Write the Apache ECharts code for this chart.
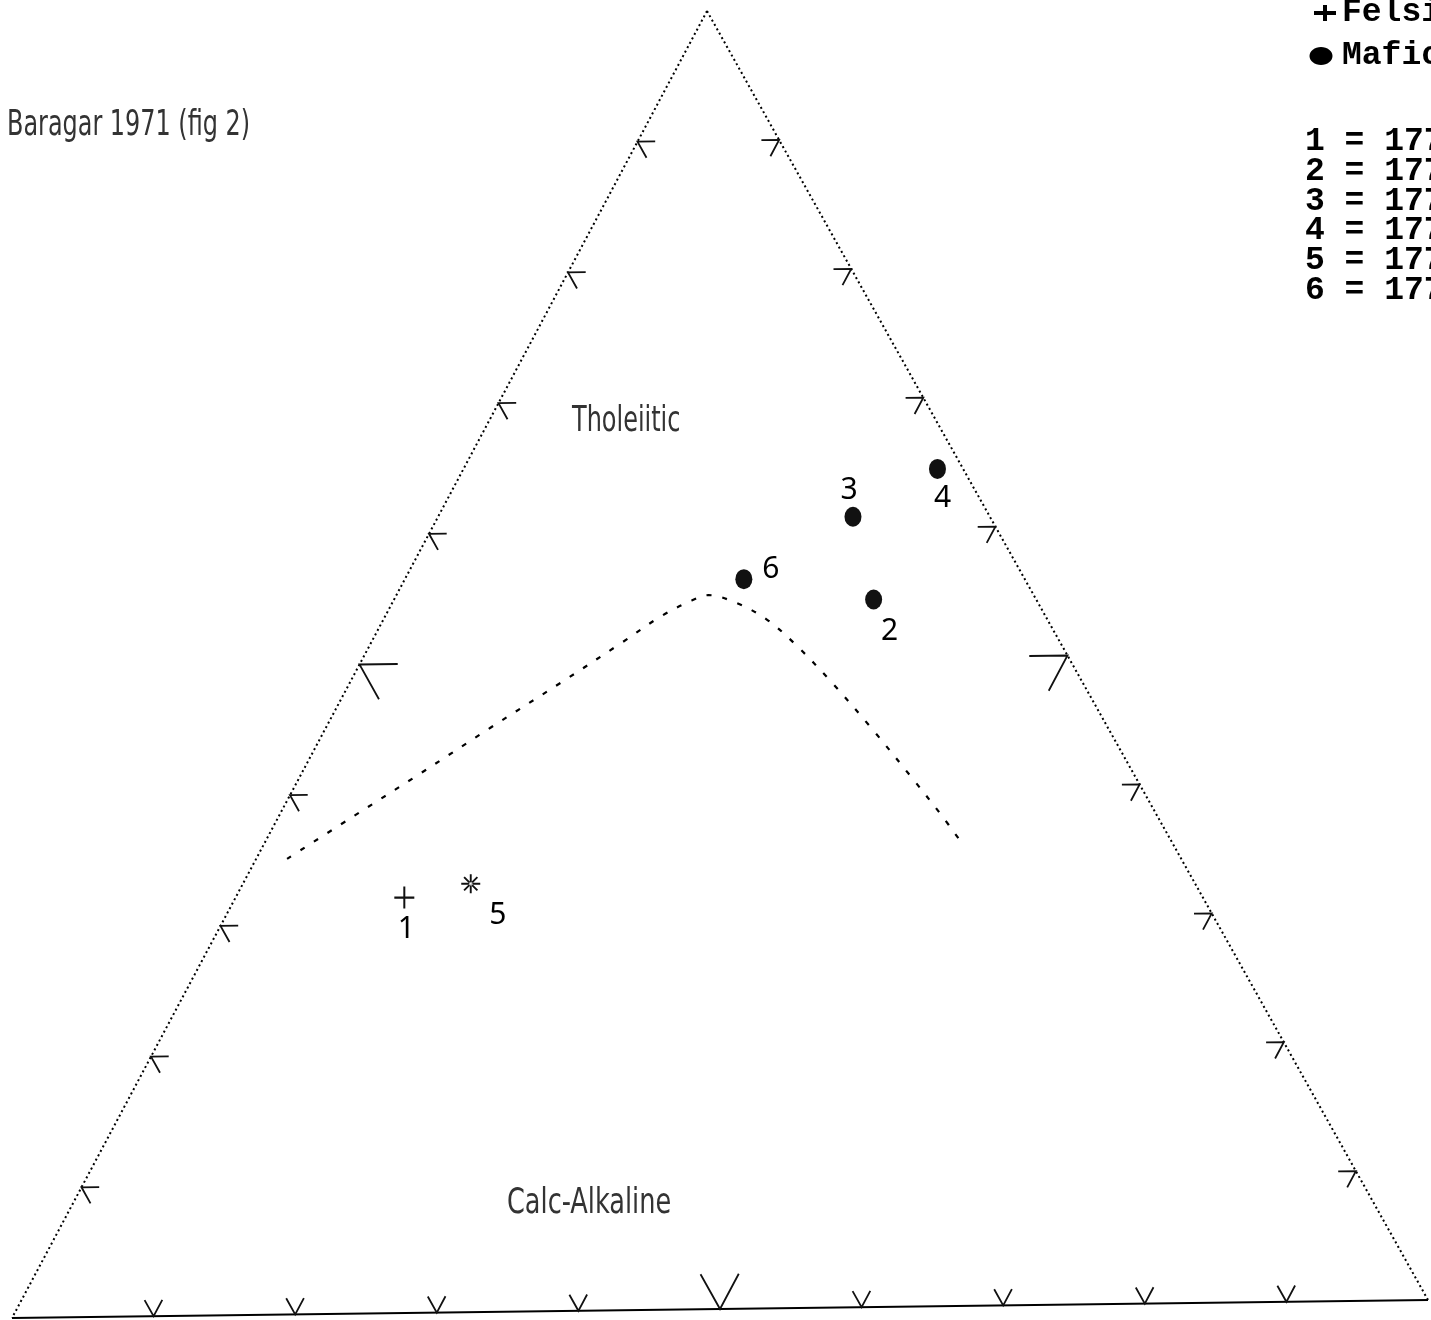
<!DOCTYPE html>
<html><head><meta charset="utf-8">
<script src="https://cdn.jsdelivr.net/npm/echarts@6/dist/echarts.min.js"></script>
<style>html,body{margin:0;padding:0;background:#fff}#chart{width:1431px;height:1320px}</style>
</head><body><div id="chart"></div>
<script>
// ---- DATA (AFM ternary: F = FeO*, A = Na2O+K2O, M = MgO, percent) ----
const sampleIds   = ['1', '2', '3', '4', '5', '6'];
const sampleGroup = ['Felsic', 'Mafic', 'Mafic', 'Mafic', 'Intermediate', 'Mafic'];
const sampleF = [32.0, 54.5, 60.9, 64.5, 33.0, 56.2];
const sampleA = [56.0, 11.4,  9.6,  1.8, 50.8, 19.7];
const sampleM = [12.0, 34.1, 29.5, 33.7, 16.2, 24.1];

// Tholeiitic / Calc-Alkaline dividing curve
const boundaryF = [35.1, 38.2, 41.6, 45.0, 48.4, 51.4, 53.4, 54.6, 55.0, 54.4, 53.1, 51.0, 48.2, 44.6, 40.7, 37.8, 35.9];
const boundaryA = [62.7, 56.6, 49.9, 43.3, 36.6, 30.8, 27.0, 24.2, 22.8, 21.2, 19.7, 18.6, 17.6, 16.6, 15.7, 15.1, 14.8];
const boundaryM = [ 2.2,  5.2,  8.5, 11.7, 15.0, 17.8, 19.6, 21.2, 22.2, 24.4, 27.2, 30.3, 34.2, 38.8, 43.6, 47.1, 49.3];

const tickValues = [10, 20, 30, 40, 50, 60, 70, 80, 90];
const majorTick = 50;

const legendNames = ['Felsic', 'Mafic'];
const keyLabels = ['1 = 177', '2 = 177', '3 = 177', '4 = 177', '5 = 177', '6 = 177'];
const titleText = 'Baragar 1971 (fig 2)';
const regionNames = ['Tholeiitic', 'Calc-Alkaline'];

// ---- LAYOUT / STYLE ----
const W = 1431, H = 1320;
const VT = [707, 11], VL = [12, 1318], VR = [1428, 1300];
function tern(F, A, M) {
  const s = F + A + M;
  return [(F * VT[0] + A * VL[0] + M * VR[0]) / s, (F * VT[1] + A * VL[1] + M * VR[1]) / s];
}
const labelOffsets = [[2, 32], [16, 32], [-4, -26], [5, 30], [27, 32], [27, -10]];
const tSmall = 1.25, tLarge = 2.7;

const edgeLeft = [tern(100, 0, 0), tern(0, 100, 0)];
const edgeRight = [tern(100, 0, 0), tern(0, 0, 100)];
const edgeBottom = [tern(0, 100, 0), tern(0, 0, 100)];

const tickLines = [];
tickValues.forEach(v => {
  const t = v === majorTick ? tLarge : tSmall;
  tickLines.push({ coords: [tern(v, 100 - v - t, t), tern(v, 100 - v, 0), tern(v - t, 100 - v, t)] });
  tickLines.push({ coords: [tern(v, t, 100 - v - t), tern(v, 0, 100 - v), tern(v - t, t, 100 - v)] });
  tickLines.push({ coords: [tern(t, v, 100 - v - t), tern(0, v, 100 - v), tern(t, v - t, 100 - v)] });
});

const boundary = boundaryF.map((f, i) => tern(f, boundaryA[i], boundaryM[i]));

function samplesOf(group) {
  const out = [];
  sampleIds.forEach((id, i) => {
    if (sampleGroup[i] !== group) return;
    out.push({ name: id, value: tern(sampleF[i], sampleA[i], sampleM[i]),
      label: { offset: labelOffsets[i] } });
  });
  return out;
}

const plusPath = 'path://M-1.1,-11 L1.1,-11 L1.1,-1.1 L11,-1.1 L11,1.1 L1.1,1.1 L1.1,11 L-1.1,11 L-1.1,1.1 L-11,1.1 L-11,-1.1 L-1.1,-1.1 Z';
const starPath = 'path://M-1,-10 L1,-10 L1,10 L-1,10 Z M-10,-1 L10,-1 L10,1 L-10,1 Z M-7.7,-6.3 L6.3,7.7 L7.7,6.3 L-6.3,-7.7 Z M-6.3,7.7 L7.7,-6.3 L6.3,-7.7 L-7.7,6.3 Z';

const numLabel = { show: true, position: 'inside', formatter: '{b}', color: '#000',
  fontFamily: 'Noto Sans', fontSize: 30 };
const condFont = '"Liberation Sans Narrow", "DejaVu Sans Condensed", sans-serif';
const monoFont = 'bold 33px "Liberation Mono", "Courier New", monospace';

const chart = echarts.init(document.getElementById('chart'), null, { renderer: 'canvas' });
chart.setOption({
  backgroundColor: '#fff',
  animation: false,
  grid: { left: 0, right: 0, top: 0, bottom: 0 },
  xAxis: { type: 'value', min: 0, max: W, show: false },
  yAxis: { type: 'value', min: 0, max: H, inverse: true, show: false },
  series: [
    { type: 'lines', coordinateSystem: 'cartesian2d', polyline: true, silent: true,
      lineStyle: { color: '#000', width: 2, type: [2, 3], opacity: 1 },
      data: [{ coords: edgeLeft }, { coords: edgeRight }] },
    { type: 'lines', coordinateSystem: 'cartesian2d', polyline: true, silent: true,
      lineStyle: { color: '#000', width: 2.2, opacity: 1 },
      data: [{ coords: edgeBottom }] },
    { type: 'lines', coordinateSystem: 'cartesian2d', polyline: true, silent: true,
      lineStyle: { color: '#111', width: 1.8, opacity: 1 },
      data: tickLines },
    { type: 'line', name: 'boundary', data: boundary, smooth: 0.35, showSymbol: false, silent: true,
      lineStyle: { color: '#000', width: 2.2, type: [5, 11], opacity: 1 } },
    { type: 'scatter', name: 'Felsic', data: samplesOf('Felsic'), symbol: plusPath, symbolSize: [20, 22],
      itemStyle: { color: '#111', opacity: 1 }, label: numLabel },
    { type: 'scatter', name: 'Intermediate', data: samplesOf('Intermediate'), symbol: starPath, symbolSize: 19,
      itemStyle: { color: '#111', opacity: 1 }, label: numLabel },
    { type: 'scatter', name: 'Mafic', data: samplesOf('Mafic'), symbol: 'circle', symbolSize: [17, 20],
      itemStyle: { color: '#111', opacity: 1 }, label: numLabel }
  ],
  graphic: [
    { type: 'text', x: 7, y: 126, scaleX: 0.76, style: { text: titleText, fill: '#333',
      font: '35px ' + condFont, textVerticalAlign: 'middle' } },
    { type: 'text', x: 572, y: 422, scaleX: 0.74, style: { text: regionNames[0], fill: '#333',
      font: '36px ' + condFont, textVerticalAlign: 'middle' } },
    { type: 'text', x: 507, y: 1204, scaleX: 0.79, style: { text: regionNames[1], fill: '#333',
      font: '36px ' + condFont, textVerticalAlign: 'middle' } },
    { type: 'polygon', shape: { points: [[1314, 11], [1323, 11], [1323, 5], [1327, 5], [1327, 11], [1336, 11], [1336, 15], [1327, 15], [1327, 21], [1323, 21], [1323, 15], [1314, 15]] },
      style: { fill: '#000' } },
    { type: 'text', x: 1342, y: 13, style: { text: legendNames[0], fill: '#000', font: monoFont, textVerticalAlign: 'middle' } },
    { type: 'ellipse', shape: { cx: 1321, cy: 56, rx: 11.5, ry: 9 }, style: { fill: '#000' } },
    { type: 'text', x: 1342, y: 56, style: { text: legendNames[1], fill: '#000', font: monoFont, textVerticalAlign: 'middle' } }
  ].concat(keyLabels.map((s, i) => ({
    type: 'text', x: 1305, y: 142 + i * 29.7, style: { text: s, fill: '#000', font: monoFont, textVerticalAlign: 'middle' }
  })))
});
</script></body></html>
